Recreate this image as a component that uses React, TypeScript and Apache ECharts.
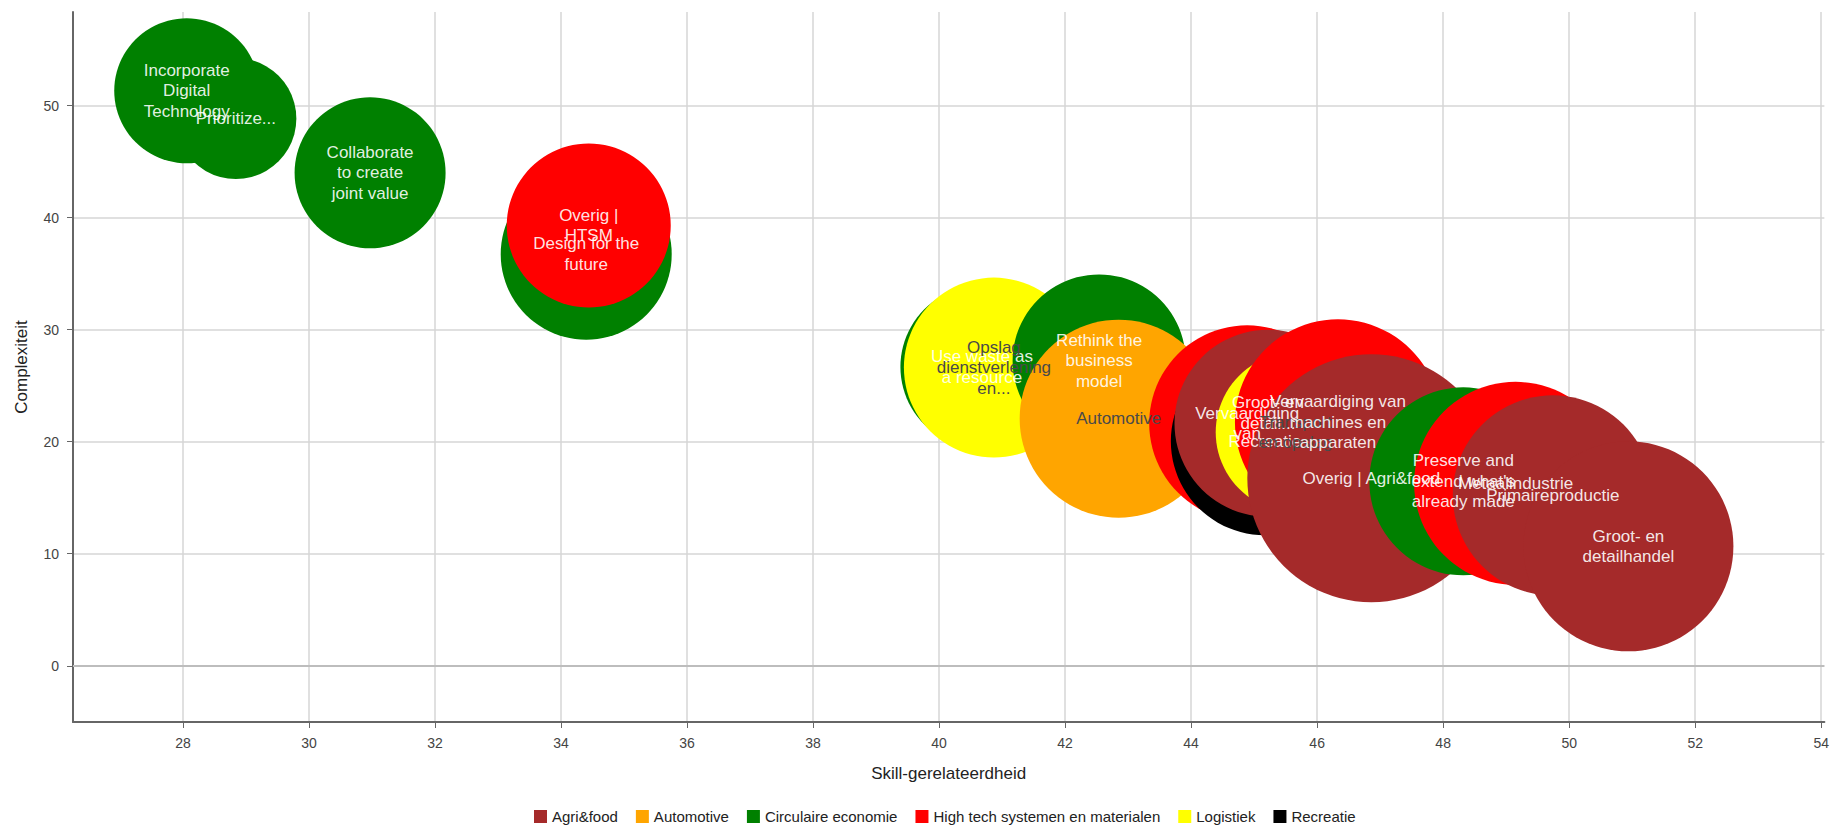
import React, { useEffect, useRef } from "react";
import * as echarts from "echarts";

// Legend categories and their colours
const categories = [
  "Agri&food",
  "Automotive",
  "Circulaire economie",
  "High tech systemen en materialen",
  "Logistiek",
  "Recreatie",
];
const categoryColors = ["#a52a2a", "#ffa500", "#008000", "#ff0000", "#ffff00", "#000000"];

// Bubbles, in drawing order (ascending skill-relatedness)
const bubbleLabels = [
  "Incorporate\nDigital\nTechnology",
  "Prioritize...",
  "Collaborate\nto create\njoint value",
  "Design for the\nfuture",
  "Overig |\nHTSM",
  "Use waste as\na resource",
  "Opslag\ndienstverlening\nen...",
  "Rethink the\nbusiness\nmodel",
  "Automotive",
  "Vervaardiging\nvan",
  "Recreatie",
  "Groot- en\ndetail...\n",
  "Transport\nen opslag",
  "Vervaardiging van\nmachines en\napparaten",
  "Overig | Agri&food",
  "Preserve and\nextend what's\nalready made",
  "Metaalindustrie",
  "Primaireproductie",
  "Groot- en\ndetailhandel",
];
const bubbleCategory = [
  "Circulaire economie",
  "Circulaire economie",
  "Circulaire economie",
  "Circulaire economie",
  "High tech systemen en materialen",
  "Circulaire economie",
  "Logistiek",
  "Circulaire economie",
  "Automotive",
  "High tech systemen en materialen",
  "Recreatie",
  "Agri&food",
  "Logistiek",
  "High tech systemen en materialen",
  "Agri&food",
  "Circulaire economie",
  "High tech systemen en materialen",
  "Agri&food",
  "Agri&food",
];
const skillRelatedness = [
  28.06, 28.84, 30.97, 34.4, 34.44, 40.68, 40.87, 42.54, 42.85, 44.89, 45.17, 45.22, 45.66,
  46.33, 46.86, 48.32, 49.15, 49.74, 50.94,
];
const complexity = [
  51.32, 48.84, 44.0, 36.73, 39.29, 26.67, 26.61, 27.21, 22.05, 21.64, 20.04, 21.64, 20.84,
  21.73, 16.73, 16.46, 16.28, 15.21, 10.66,
];
const bubbleSize = [
  14.5, 12.1, 15.1, 17.1, 16.4, 16.3, 18.0, 17.3, 19.8, 19.6, 18.8, 18.7, 16.0, 20.6, 24.8,
  18.8, 20.3, 20.0, 21.0,
];

const xTicks = [28, 30, 32, 34, 36, 38, 40, 42, 44, 46, 48, 50, 52, 54];
const yTicks = [0, 10, 20, 30, 40, 50];
const xRange = [26.255, 54.05];
const yRange = [-5.02, 58.35];

const FONT = "Arial, 'Liberation Sans', sans-serif";
const SIZE_SCALE = 10;
const darkLabelCategories = ["Automotive", "Logistiek"];

export default function App() {
  const ref = useRef<HTMLDivElement>(null);

  useEffect(() => {
    if (!ref.current) return;
    const chart = echarts.init(ref.current, undefined, { renderer: "svg" });

    const colorOf = (cat: string) => categoryColors[categories.indexOf(cat)];

    const bubbleSeries = skillRelatedness.map((x, i) => ({
      type: "scatter",
      name: bubbleCategory[i],
      data: [[x, complexity[i], bubbleSize[i]]],
      symbol: "circle",
      symbolSize: (v: number[]) => v[2] * SIZE_SCALE,
      itemStyle: { color: colorOf(bubbleCategory[i]), opacity: 1 },
      z: 2,
      silent: true,
    }));

    const labelSeries = {
      type: "scatter",
      name: "labels",
      z: 5,
      silent: true,
      symbol: "circle",
      symbolSize: 1,
      itemStyle: { color: "rgba(0,0,0,0)" },
      data: skillRelatedness.map((x, i) => ({
        name: bubbleLabels[i],
        value: [x, complexity[i]],
        label: {
          color: darkLabelCategories.includes(bubbleCategory[i]) ? "#4a4a4a" : "rgba(255,255,255,0.9)",
        },
      })),
      label: {
        show: true,
        position: "inside",
        formatter: "{b}",
        fontSize: 17,
        lineHeight: 20.5,
        fontFamily: FONT,
        align: "center",
        opacity: 1,
      },
    };

    const zeroLine = {
      type: "line",
      name: "zero",
      data: [],
      silent: true,
      markLine: {
        silent: true,
        symbol: "none",
        label: { show: false },
        lineStyle: { color: "#bdbdbd", width: 2, type: "solid" },
        data: [{ yAxis: 0 }],
      },
    };

    chart.setOption({
      animation: false,
      backgroundColor: "#ffffff",
      textStyle: { fontFamily: FONT },
      grid: { left: 73, right: 7, top: 12, bottom: 104, containLabel: false },
      legend: {
        data: categories,
        left: 529,
        top: 804,
        icon: "rect",
        itemWidth: 13,
        itemHeight: 13,
        itemGap: 18,
        textStyle: { fontSize: 15, color: "#222", fontFamily: FONT },
      },
      xAxis: {
        type: "value",
        min: xRange[0],
        max: xRange[1],
        name: "Skill-gerelateerdheid",
        nameLocation: "middle",
        nameGap: 43,
        nameTextStyle: { fontSize: 17, color: "#222", fontFamily: FONT },
        axisLine: { show: true, onZero: false, lineStyle: { color: "#666", width: 2 } },
        axisTick: { show: true, length: 6, customValues: xTicks, lineStyle: { color: "#666" } },
        axisLabel: { customValues: xTicks, fontSize: 14, color: "#444", margin: 14, fontFamily: FONT },
        splitLine: { show: true, lineStyle: { color: "#d6d6d6", width: 1.5 } },
      },
      yAxis: {
        type: "value",
        min: yRange[0],
        max: yRange[1],
        name: "Complexiteit",
        nameLocation: "middle",
        nameGap: 43,
        nameRotate: 90,
        nameTextStyle: { fontSize: 17, color: "#222", fontFamily: FONT },
        axisLine: { show: true, onZero: false, lineStyle: { color: "#666", width: 2 } },
        axisTick: { show: true, length: 6, customValues: yTicks, lineStyle: { color: "#666" } },
        axisLabel: { customValues: yTicks, fontSize: 14, color: "#444", margin: 14, fontFamily: FONT },
        splitLine: { show: true, lineStyle: { color: "#d6d6d6", width: 1.5 } },
      },
      series: [zeroLine, ...bubbleSeries, labelSeries],
    });

    return () => chart.dispose();
  }, []);

  return (
    <div
      ref={ref}
      style={{ position: "fixed", left: 0, top: 0, width: 1832, height: 826, background: "#fff" }}
    />
  );
}
